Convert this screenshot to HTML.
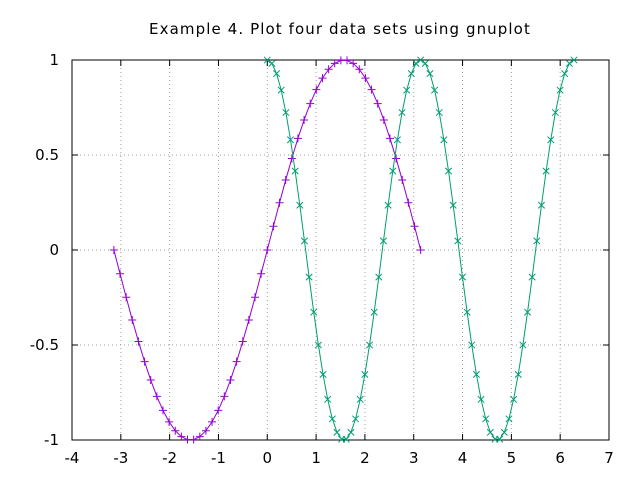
<!DOCTYPE html>
<html><head><meta charset="utf-8"><style>
body{margin:0;background:#fff;}
svg{display:block;font-family:"DejaVu Sans","Liberation Sans",sans-serif;}
</style></head><body>
<svg id="chart" width="640" height="480">
<text x="340" y="34" font-size="15" letter-spacing="1.1" text-anchor="middle">Example 4. Plot four data sets using gnuplot</text>
<g id="grid"></g><g id="axes"></g><g id="series"></g>
</svg>
<script>
const xTicks=[-4,-3,-2,-1,0,1,2,3,4,5,6,7];
const yTicks=[-1,-0.5,0,0.5,1];
const yTickLabels=["-1","-0.5","0","0.5","1"];
const sinX=[-3.142,-3.016,-2.890,-2.765,-2.639,-2.513,-2.388,-2.262,-2.136,-2.011,-1.885,-1.759,-1.634,-1.508,-1.382,-1.257,-1.131,-1.005,-0.880,-0.754,-0.628,-0.503,-0.377,-0.251,-0.126,0,0.126,0.251,0.377,0.503,0.628,0.754,0.880,1.005,1.131,1.257,1.382,1.508,1.634,1.759,1.885,2.011,2.136,2.262,2.388,2.513,2.639,2.765,2.890,3.016,3.142];
const sinY=[0,-0.1253,-0.2487,-0.3681,-0.4818,-0.5878,-0.6845,-0.7705,-0.8443,-0.9048,-0.9511,-0.9823,-0.9980,-0.9980,-0.9823,-0.9511,-0.9048,-0.8443,-0.7705,-0.6845,-0.5878,-0.4818,-0.3681,-0.2487,-0.1253,0,0.1253,0.2487,0.3681,0.4818,0.5878,0.6845,0.7705,0.8443,0.9048,0.9511,0.9823,0.9980,0.9980,0.9823,0.9511,0.9048,0.8443,0.7705,0.6845,0.5878,0.4818,0.3681,0.2487,0.1253,0];
const cosX=[0,0.0952,0.1904,0.2856,0.3808,0.4760,0.5712,0.6664,0.7616,0.8568,0.9520,1.0472,1.1424,1.2376,1.3328,1.4280,1.5232,1.6184,1.7136,1.8088,1.9040,1.9992,2.0944,2.1896,2.2848,2.3800,2.4752,2.5704,2.6656,2.7608,2.8560,2.9512,3.0464,3.1416,3.2368,3.3320,3.4272,3.5224,3.6176,3.7128,3.8080,3.9032,3.9984,4.0936,4.1888,4.2840,4.3792,4.4744,4.5696,4.6648,4.7600,4.8552,4.9504,5.0456,5.1408,5.2360,5.3312,5.4264,5.5216,5.6168,5.7120,5.8072,5.9024,5.9976,6.0928,6.1880,6.2832];
const cosY=[1,0.9819,0.9284,0.8413,0.7237,0.5801,0.4154,0.2358,0.0476,-0.1423,-0.3271,-0.5,-0.6549,-0.7861,-0.8888,-0.9595,-0.9955,-0.9955,-0.9595,-0.8888,-0.7861,-0.6549,-0.5,-0.3271,-0.1423,0.0476,0.2358,0.4154,0.5801,0.7237,0.8413,0.9284,0.9819,1,0.9819,0.9284,0.8413,0.7237,0.5801,0.4154,0.2358,0.0476,-0.1423,-0.3271,-0.5,-0.6549,-0.7861,-0.8888,-0.9595,-0.9955,-0.9955,-0.9595,-0.8888,-0.7861,-0.6549,-0.5,-0.3271,-0.1423,0.0476,0.2358,0.4154,0.5801,0.7237,0.8413,0.9284,0.9819,1];
const L=72,R=609,T=60,B=440;
const sx=v=>L+(v+4)/11*(R-L);
const sy=v=>B-(v+1)/2*(B-T);
const NS="http://www.w3.org/2000/svg";
function mk(p,t,a){const e=document.createElementNS(NS,t);for(const k in a)e.setAttribute(k,a[k]);p.appendChild(e);return e;}
const grid=document.getElementById('grid'),axes=document.getElementById('axes'),ser=document.getElementById('series');
xTicks.forEach(v=>{
 const x=sx(v);
 if(v>-4&&v<7){const g=mk(grid,'line',{x1:x,x2:x,y1:T,y2:B,stroke:'#a0a0a0','stroke-dasharray':'1,3','stroke-width':1});
 
 }
 mk(axes,'line',{x1:x,x2:x,y1:B,y2:B-6,stroke:'#000'});
 mk(axes,'line',{x1:x,x2:x,y1:T,y2:T+6,stroke:'#000'});
 const t=mk(axes,'text',{x:x,y:B+23,'font-size':15,'text-anchor':'middle'});t.textContent=v;
 
 
});
yTicks.forEach((v,i)=>{
 const y=sy(v);
 if(v>-1&&v<1){const g=mk(grid,'line',{x1:L,x2:R,y1:y,y2:y,stroke:'#a0a0a0','stroke-dasharray':'1,3','stroke-width':1});
 
 }
 mk(axes,'line',{x1:L,x2:L+6,y1:y,y2:y,stroke:'#000'});
 mk(axes,'line',{x1:R,x2:R-6,y1:y,y2:y,stroke:'#000'});
 const t=mk(axes,'text',{x:59,y:y+5,'font-size':15,'text-anchor':'end'});t.textContent=yTickLabels[i];
 
 
});
const fr=mk(axes,'rect',{x:L,y:T,width:R-L,height:B-T,fill:'none',stroke:'#000'});


function series(xs,ys,col,mark,name){
 const p=mk(ser,'polyline',{points:xs.map((x,i)=>sx(x)+','+sy(ys[i])).join(' '),fill:'none',stroke:col,'stroke-width':1});
 
 
 xs.forEach((x,i)=>{
  const cx=sx(x),cy=sy(ys[i]),d=mark==='+'?4:3.2;
  const path=mark==='+'?`M${cx-d} ${cy}H${cx+d}M${cx} ${cy-d}V${cy+d}`:`M${cx-d} ${cy-d}L${cx+d} ${cy+d}M${cx-d} ${cy+d}L${cx+d} ${cy-d}`;
  const m=mk(ser,'path',{d:path,stroke:col,'stroke-width':1,fill:'none'});
  
  
 });
}
series(sinX,sinY,'#9400d3','+','sin-series');
series(cosX,cosY,'#009e73','x','cos-series');
</script>
</body></html>
